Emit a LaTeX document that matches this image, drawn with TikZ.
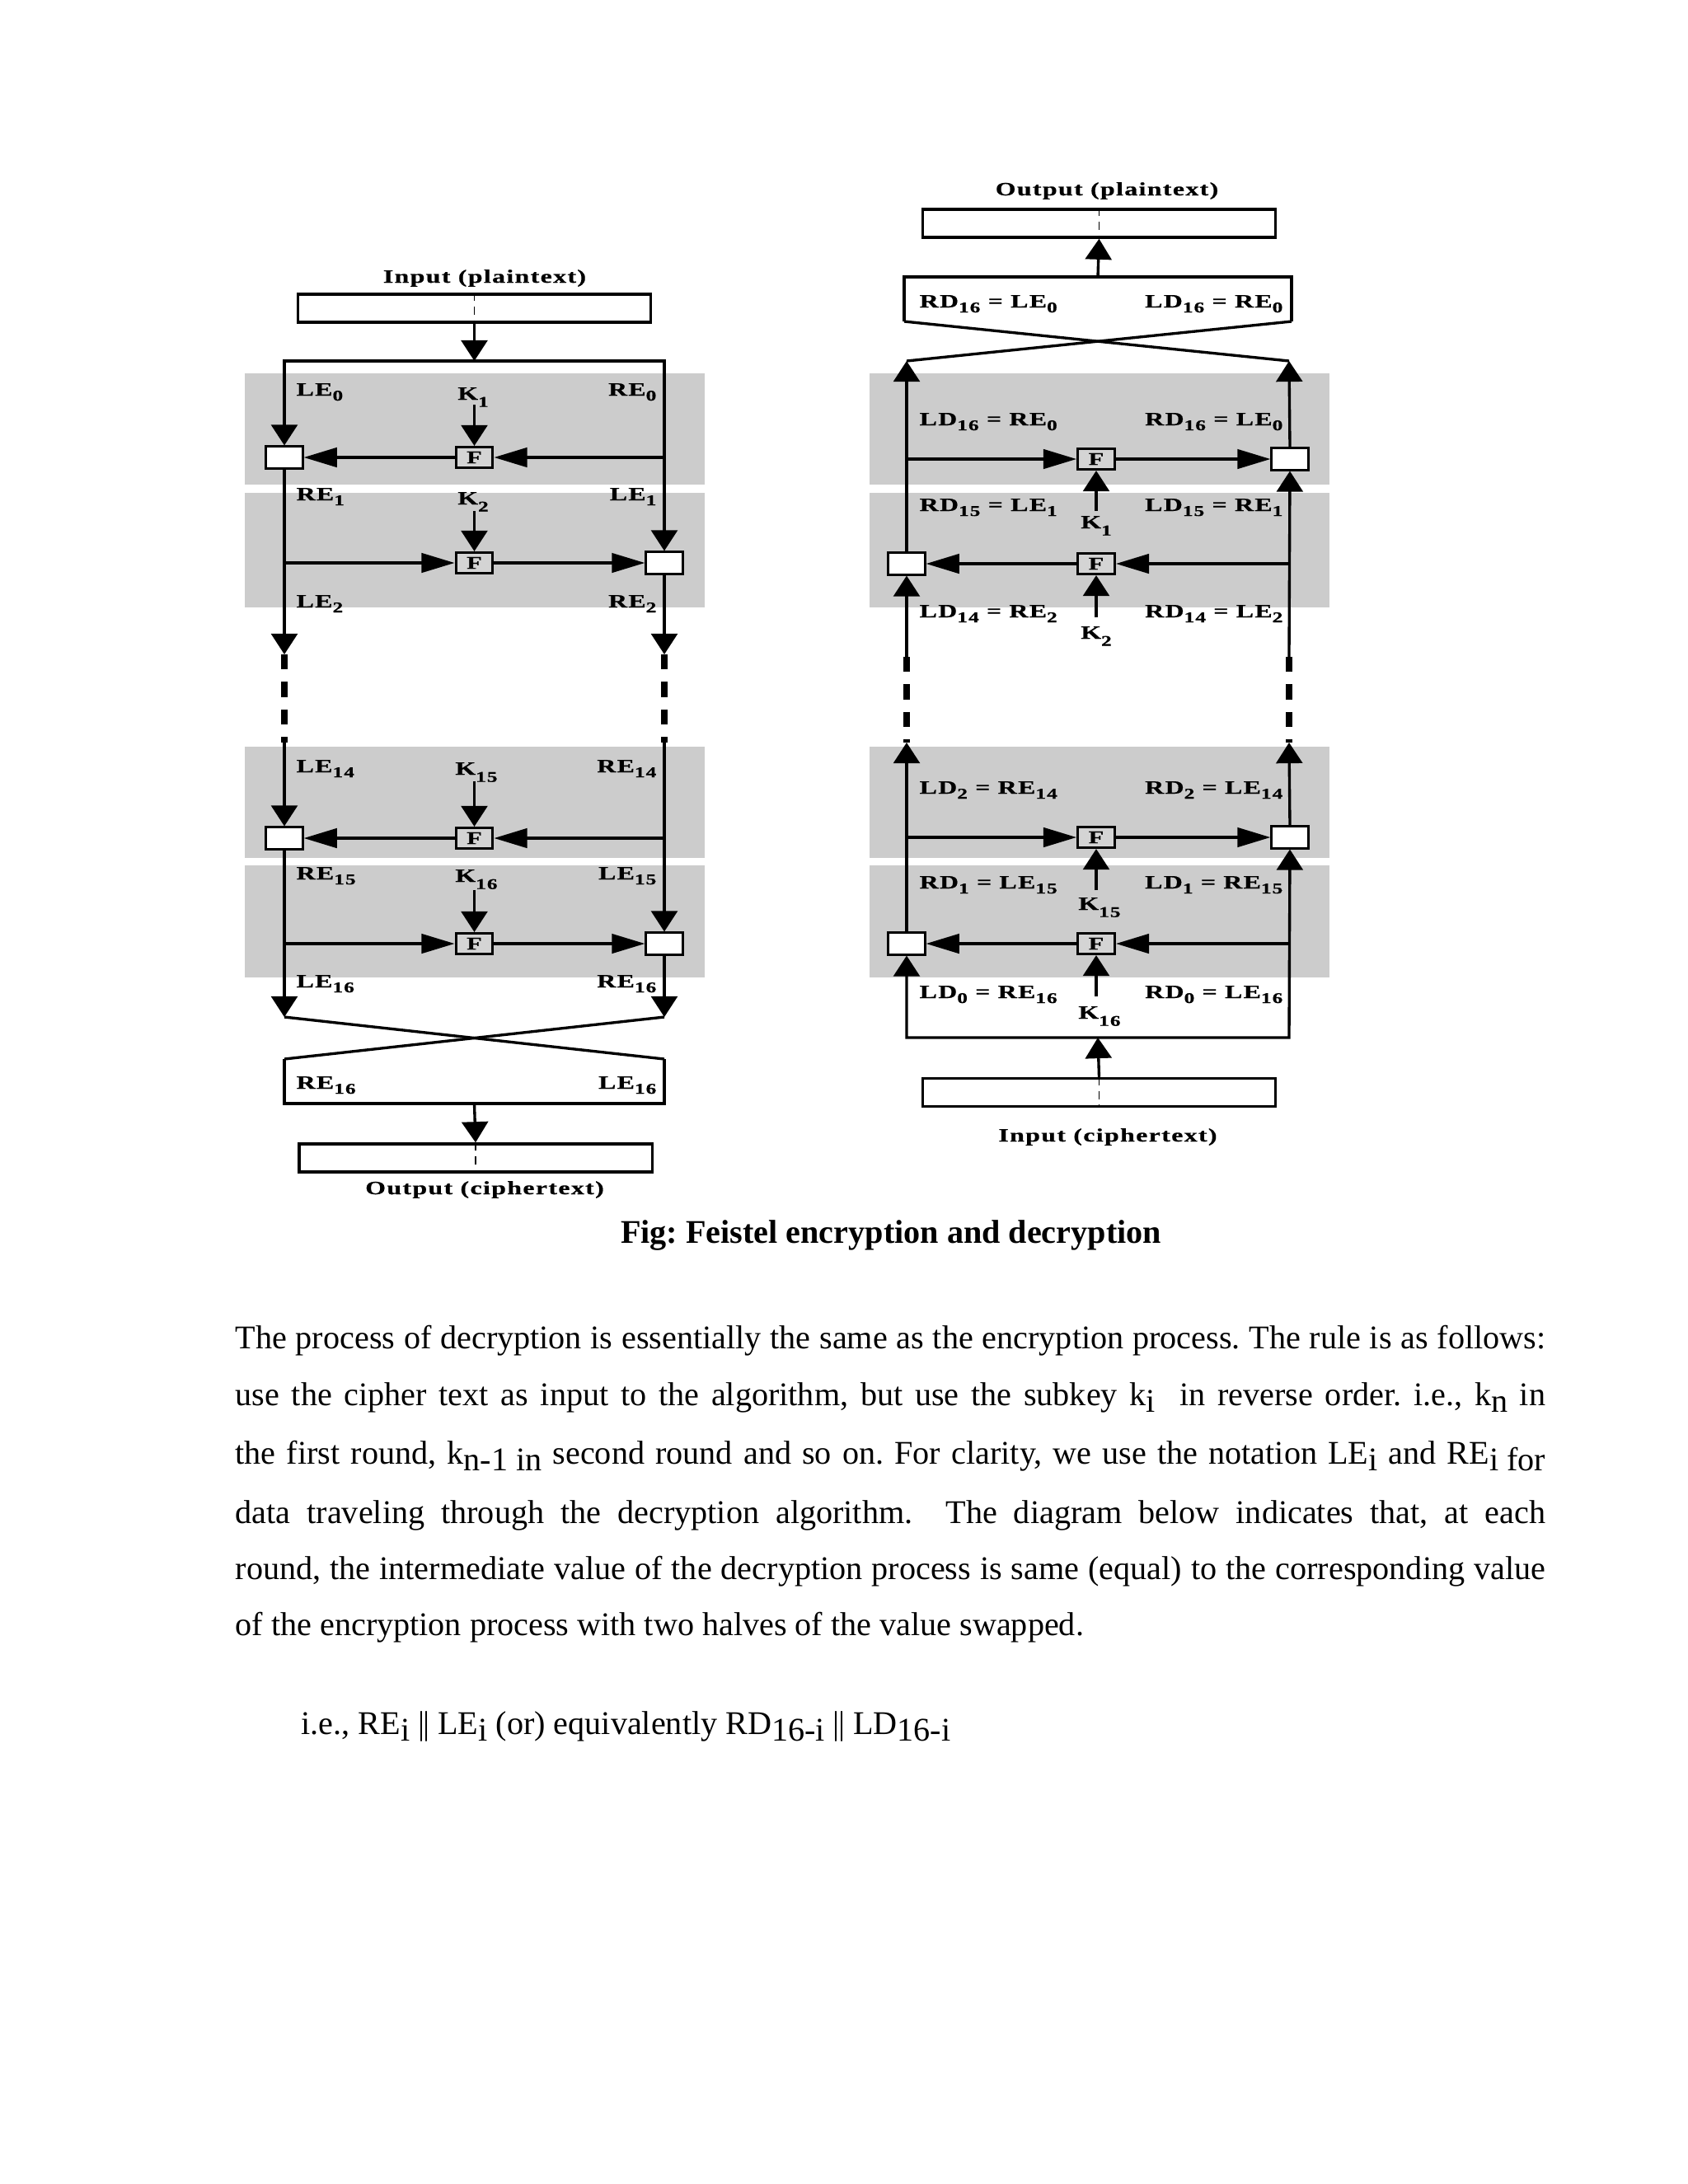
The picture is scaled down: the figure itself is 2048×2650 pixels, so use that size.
\documentclass[tikz,border=0pt]{standalone}
\usepackage{fontspec}
\setmainfont{Liberation Serif}
\newfontfamily\dgfont[FakeStretch=1.4,LetterSpace=6,FakeBold=0.6]{Liberation Serif}
\usetikzlibrary{arrows.meta}
\definecolor{bandgray}{RGB}{204,204,204}
\definecolor{fgray}{RGB}{212,212,212}
\newcommand\sbs[1]{\raisebox{-1.8pt}{\fontsize{5.4pt}{5.6pt}\selectfont #1}}
\newcommand\ksb[1]{\raisebox{-2.6pt}{\fontsize{5.4pt}{5.6pt}\selectfont #1}}
\newcommand\tsb[1]{\raisebox{-2.5pt}{#1}}
\newcommand\dbar{\textbar\kern-0.6pt\textbar}
\frenchspacing
\begin{document}
\begin{tikzpicture}[x=0.29883pt,y=-0.29883pt,
  wire/.style={line width=1pt},
  va/.style={wire,-{Triangle[length=7.5pt,width=9.5pt]}},
  vboth/.style={wire,{Triangle[length=7.5pt,width=9.5pt]}-{Triangle[length=7.5pt,width=9.5pt]}},
  ha/.style={wire,-{Triangle[length=12pt,width=7pt]}},
  dwire/.style={line width=2.2pt,dash pattern=on 5.5pt off 4.5pt},
  fbx/.style={draw,line width=0.9pt,fill=fgray,minimum width=13.4pt,minimum height=7.5pt,inner sep=0pt,font=\dgfont\bfseries\fontsize{6.5}{7}\selectfont},
  xbx/.style={draw,line width=0.9pt,fill=white,minimum width=13.2pt,minimum height=7.8pt,inner sep=0pt},
  iobx/.style={draw,line width=1pt,fill=white,minimum width=128pt,minimum height=10.2pt,inner sep=0pt},
  lab/.style={font=\dgfont\bfseries\fontsize{6.8}{7}\selectfont,inner sep=0pt},
  body/.style={font=\fontsize{12}{14}\selectfont,inner sep=0pt,anchor=base west},
  divl/.style={line width=0.5pt,densely dashed}
]
\useasboundingbox (0,0) rectangle (2048,2650);
\fill[white] (0,0) rectangle (2048,2650);

% gray bands
\foreach \ya/\yb in {453/588, 598/737, 906/1041, 1050/1186} {
  \fill[bandgray] (297,\ya) rectangle (855,\yb);
  \fill[bandgray] (1055,\ya) rectangle (1613,\yb);
}

% ================= Encryption (left) =================
\node[iobx] (inE) at (575.5,374) {};
\draw[divl] (inE.north) -- (inE.south);
\node[lab,anchor=base] (inEl) at (588,343) {Input (plaintext)};
\coordinate (tE) at (575.5,438);
\coordinate (tL) at (345,438);
\coordinate (tR) at (806,438);

\node[xbx] (x1) at (345,555) {};
\node[fbx] (f1) at (575.5,555) {F};
\node[xbx] (x2) at (806,683) {};
\node[fbx] (f2) at (575.5,683) {F};
\node[xbx] (x3) at (345,1017) {};
\node[fbx] (f3) at (575.5,1017) {F};
\node[xbx] (x4) at (806,1145) {};
\node[fbx] (f4) at (575.5,1145) {F};

\coordinate (r1) at (806,555);
\coordinate (l2) at (345,683);
\coordinate (r3) at (806,1017);
\coordinate (l4) at (345,1145);
\coordinate (k1s) at (575.5,491);
\coordinate (k2s) at (575.5,620);
\coordinate (k3s) at (575.5,948);
\coordinate (k4s) at (575.5,1080);
\coordinate (aL1) at (345,794);
\coordinate (aR1) at (806,794);
\coordinate (dL1) at (345,901);
\coordinate (dR1) at (806,901);
\coordinate (bL) at (345,1234);
\coordinate (bR) at (806,1234);
\coordinate (cL) at (345,1285);
\coordinate (cR) at (806,1285);
\coordinate (oL) at (345,1339);
\coordinate (oR) at (806,1339);
\coordinate (oM) at (575.5,1339);

\draw[va] (inE.south) -- (tE);
\draw[vboth] (x1.north) -- (tL) -- (tR) -- (x2.north);
\draw[ha] (r1) -- (f1.east);
\draw[ha] (f1.west) -- (x1.east);
\draw[va] (k1s) -- (f1.north);
\draw[va] (x1.south) -- (aL1);
\draw[ha] (l2) -- (f2.west);
\draw[ha] (f2.east) -- (x2.west);
\draw[va] (k2s) -- (f2.north);
\draw[va] (x2.south) -- (aR1);
\draw[dwire] (aL1) -- (dL1);
\draw[dwire] (aR1) -- (dR1);
\draw[va] (dL1) -- (x3.north);
\draw[va] (dR1) -- (x4.north);
\draw[ha] (r3) -- (f3.east);
\draw[ha] (f3.west) -- (x3.east);
\draw[va] (k3s) -- (f3.north);
\draw[va] (x3.south) -- (bL);
\draw[ha] (l4) -- (f4.west);
\draw[ha] (f4.east) -- (x4.west);
\draw[va] (k4s) -- (f4.north);
\draw[va] (x4.south) -- (bR);
\draw[wire] (bL) -- (cR);
\draw[wire] (bR) -- (cL);
\draw[wire] (cL) -- (oL) -- (oR) -- (cR);
\node[iobx] (outE) at (577,1405) {};
\draw[divl] (outE.north) -- (outE.south);
\draw[va] (oM) -- (outE.north);
\node[lab,anchor=base] (outEl) at (588,1449) {Output (ciphertext)};

% labels left
\node[lab,anchor=base west] (le0) at (359,480) {LE\sbs{0}};
\node[lab,anchor=base] (kk1) at (574,485) {K\ksb{1}};
\node[lab,anchor=base east] (re0) at (797,480) {RE\sbs{0}};
\node[lab,anchor=base west] (re1) at (359,607) {RE\sbs{1}};
\node[lab,anchor=base] (kk2) at (574,612) {K\ksb{2}};
\node[lab,anchor=base east] (le1) at (797,607) {LE\sbs{1}};
\node[lab,anchor=base west] (le2) at (359,737) {LE\sbs{2}};
\node[lab,anchor=base east] (re2) at (797,737) {RE\sbs{2}};
\node[lab,anchor=base west] (le14) at (359,937) {LE\sbs{14}};
\node[lab,anchor=base] (kk15) at (578,940) {K\ksb{15}};
\node[lab,anchor=base east] (re14) at (797,937) {RE\sbs{14}};
\node[lab,anchor=base west] (re15) at (359,1067) {RE\sbs{15}};
\node[lab,anchor=base] (kk16) at (578,1070) {K\ksb{16}};
\node[lab,anchor=base east] (le15) at (797,1067) {LE\sbs{15}};
\node[lab,anchor=base west] (le16) at (359,1198) {LE\sbs{16}};
\node[lab,anchor=base east] (re16) at (797,1198) {RE\sbs{16}};
\node[lab,anchor=base west] (re16b) at (359,1321) {RE\sbs{16}};
\node[lab,anchor=base east] (le16b) at (797,1321) {LE\sbs{16}};

% ================= Decryption (right) =================
\node[iobx] (outD) at (1333.5,271) {};
\draw[divl] (outD.north) -- (outD.south);
\node[lab,anchor=base] (outDl) at (1343,237) {Output (plaintext)};
\coordinate (bxTL) at (1097,336);
\coordinate (bxTR) at (1567,336);
\coordinate (bxBL) at (1097,390);
\coordinate (bxBR) at (1567,390);
\coordinate (mT) at (1332,336);
\coordinate (aLD) at (1100,438);
\coordinate (aRD) at (1564,438);
\draw[wire] (bxBL) -- (bxTL) -- (bxTR) -- (bxBR);
\draw[va] (mT) -- (outD.south);
\draw[wire] (bxBL) -- (aRD);
\draw[wire] (bxBR) -- (aLD);

\node[fbx] (g1) at (1330,557) {F};
\node[xbx] (y1) at (1565,557) {};
\node[fbx] (g2) at (1330,684) {F};
\node[xbx] (y2) at (1100,684) {};
\node[fbx] (g3) at (1330,1016) {F};
\node[xbx] (y3) at (1565,1016) {};
\node[fbx] (g4) at (1330,1145) {F};
\node[xbx] (y4) at (1100,1145) {};

\coordinate (bL1) at (1100,557);
\coordinate (bR2) at (1564,684);
\coordinate (bL3) at (1100,1016);
\coordinate (bR4) at (1564,1145);
\coordinate (kd1) at (1330,620);
\coordinate (kd2) at (1330,749);
\coordinate (kd3) at (1330,1080);
\coordinate (kd4) at (1330,1209);
\coordinate (dLt) at (1100,797);
\coordinate (dRt) at (1564,797);
\coordinate (aL3) at (1100,901);
\coordinate (aR3) at (1564,901);
\coordinate (bLb) at (1100,1259);
\coordinate (bRb) at (1564,1259);
\coordinate (mB) at (1332,1259);

\draw[va] (y2.north) -- (aLD);
\draw[va] (y1.north) -- (aRD);
\draw[ha] (bL1) -- (g1.west);
\draw[ha] (g1.east) -- (y1.west);
\draw[va] (kd1) -- (g1.south);
\draw[va] (dRt) -- (y1.south);
\draw[ha] (bR2) -- (g2.east);
\draw[ha] (g2.west) -- (y2.east);
\draw[va] (kd2) -- (g2.south);
\draw[va] (dLt) -- (y2.south);
\draw[dwire] (dLt) -- (aL3);
\draw[dwire] (dRt) -- (aR3);
\draw[va] (y4.north) -- (aL3);
\draw[va] (y3.north) -- (aR3);
\draw[ha] (bL3) -- (g3.west);
\draw[ha] (g3.east) -- (y3.west);
\draw[va] (kd3) -- (g3.south);
\draw[ha] (bR4) -- (g4.east);
\draw[ha] (g4.west) -- (y4.east);
\draw[va] (kd4) -- (g4.south);
\draw[vboth] (y4.south) -- (bLb) -- (bRb) -- (y3.south);
\node[iobx] (inD) at (1333.5,1325.5) {};
\draw[divl] (inD.north) -- (inD.south);
\draw[va] (inD.north) -- (mB);
\node[lab,anchor=base] (inDl) at (1344,1385) {Input (ciphertext)};

% labels right
\node[lab,anchor=base west] (t1) at (1115,373) {RD\sbs{16} = LE\sbs{0}};
\node[lab,anchor=base east] (t2) at (1557,373) {LD\sbs{16} = RE\sbs{0}};
\node[lab,anchor=base west] (d1) at (1115,516) {LD\sbs{16} = RE\sbs{0}};
\node[lab,anchor=base east] (d2) at (1557,516) {RD\sbs{16} = LE\sbs{0}};
\node[lab,anchor=base west] (d3) at (1115,620) {RD\sbs{15} = LE\sbs{1}};
\node[lab,anchor=base east] (d4) at (1557,620) {LD\sbs{15} = RE\sbs{1}};
\node[lab,anchor=base] (kd1l) at (1330,641) {K\ksb{1}};
\node[lab,anchor=base west] (d5) at (1115,749) {LD\sbs{14} = RE\sbs{2}};
\node[lab,anchor=base east] (d6) at (1557,749) {RD\sbs{14} = LE\sbs{2}};
\node[lab,anchor=base] (kd2l) at (1330,775) {K\ksb{2}};
\node[lab,anchor=base west] (d7) at (1115,963) {LD\sbs{2} = RE\sbs{14}};
\node[lab,anchor=base east] (d8) at (1557,963) {RD\sbs{2} = LE\sbs{14}};
\node[lab,anchor=base west] (d9) at (1115,1078) {RD\sbs{1} = LE\sbs{15}};
\node[lab,anchor=base east] (d10) at (1557,1078) {LD\sbs{1} = RE\sbs{15}};
\node[lab,anchor=base] (kd3l) at (1334,1104) {K\ksb{15}};
\node[lab,anchor=base west] (d11) at (1115,1211) {LD\sbs{0} = RE\sbs{16}};
\node[lab,anchor=base east] (d12) at (1557,1211) {RD\sbs{0} = LE\sbs{16}};
\node[lab,anchor=base] (kd4l) at (1334,1236) {K\ksb{16}};

% ================= Caption and text =================
\node[font=\bfseries\fontsize{12}{14}\selectfont,inner sep=0pt,anchor=base] (cap) at (1081,1508) {Fig: Feistel encryption and decryption};
\node[body] (p1) at (285,1636) {\makebox[475pt][s]{The process of decryption is essentially the same as the encryption process. The rule is as follows:}};
\node[body] (p2) at (285,1705) {\makebox[475pt][s]{use the cipher text as input to the algorithm, but use the subkey k\tsb{i}\ \ in reverse order. i.e., k\tsb{n} in}};
\node[body] (p3) at (285,1776) {\makebox[475pt][s]{the first round, k\tsb{n-1 in} second round and so on. For clarity, we use the notation LE\tsb{i} and RE\tsb{i for}}};
\node[body] (p4) at (285,1848) {\makebox[475pt][s]{data traveling through the decryption algorithm.\ \ The diagram below indicates that, at each}};
\node[body] (p5) at (285,1916) {\makebox[475pt][s]{round, the intermediate value of the decryption process is same (equal) to the corresponding value}};
\node[body] (p6) at (285,1984) {of the encryption process with two halves of the value swapped.};
\node[body] (p7) at (365,2104) {i.e., RE\tsb{i} \dbar{} LE\tsb{i} (or) equivalently RD\tsb{16-i} \dbar{} LD\tsb{16-i}};
\end{tikzpicture}
\end{document}
